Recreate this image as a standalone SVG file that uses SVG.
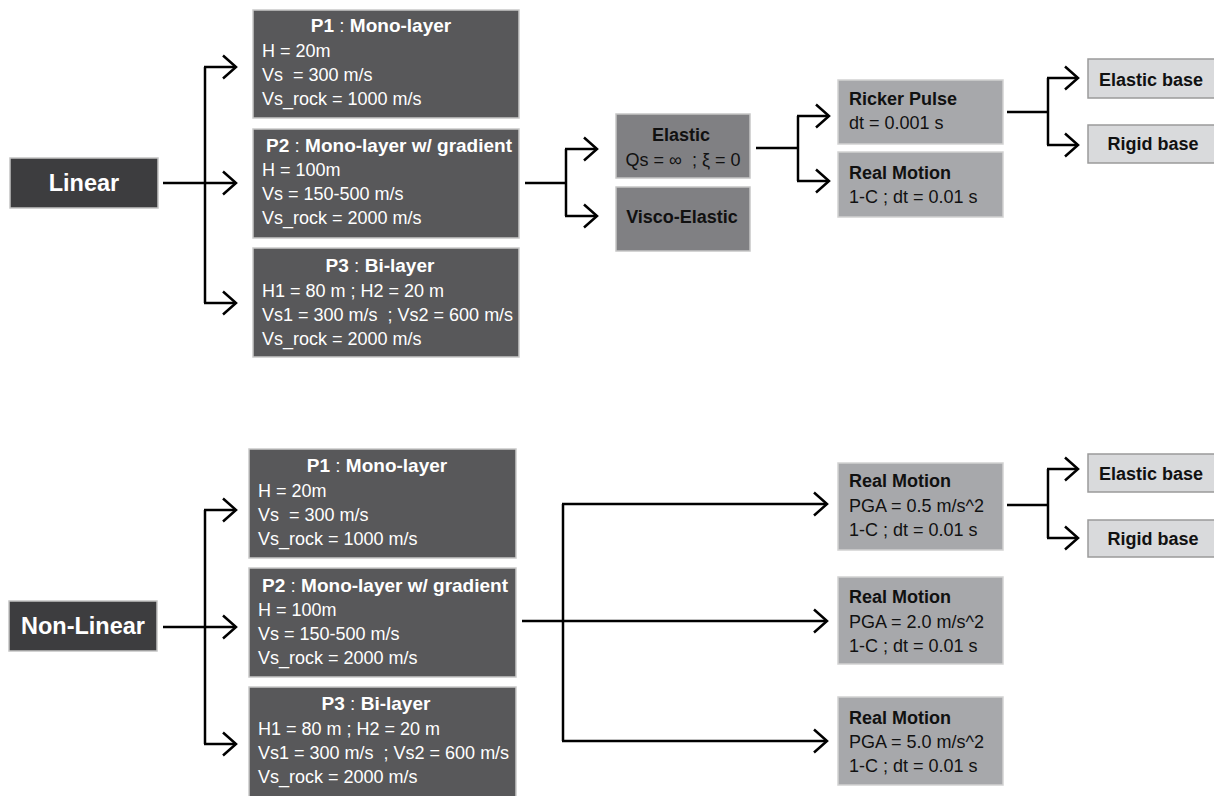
<svg xmlns="http://www.w3.org/2000/svg" width="1214" height="796" viewBox="0 0 1214 796">
<defs>
<style>
text{font-family:"Liberation Sans",Arial,sans-serif;}
.dk{fill:#3d3d3f;stroke:#c4c4c4;stroke-width:1.5;}
.pb{fill:#58585a;stroke:#c9c9c9;stroke-width:1.5;}
.md{fill:#808083;stroke:#c6c6c6;stroke-width:1.5;}
.lt{fill:#a7a8ab;stroke:#d2d2d2;stroke-width:1.5;}
.bs{fill:#d9dadc;stroke:#9a9a9a;stroke-width:1.5;}
.big{font-size:23.5px;font-weight:bold;fill:#fff;text-anchor:middle;}
.pt{font-size:19px;font-weight:bold;fill:#fff;}
.pl{font-size:18px;fill:#fff;}
.bt{font-size:18px;font-weight:bold;fill:#111;}
.bl{font-size:18px;fill:#111;}
.c{text-anchor:middle;}
.n{font-weight:normal;}
.ln{fill:none;stroke:#000;stroke-width:2.5;}
</style>
<marker id="ah" markerUnits="userSpaceOnUse" viewBox="-16 -14 18 28" refX="0" refY="0" markerWidth="18" markerHeight="28" orient="auto">
<path d="M-13,-11.5 L0,0 L-13,11.5" fill="none" stroke="#000" stroke-width="2.5"/>
</marker>
</defs>

<!-- Linear section -->
<g id="linear"><rect class="dk" x="10" y="158" width="148" height="50"/><text class="big" x="84" y="191">Linear</text></g>
<g id="lin-p1"><rect class="pb" x="253" y="10" width="266" height="108"/>
<text class="pt" x="381" y="32" text-anchor="middle" xml:space="preserve">P1<tspan class="n"> : </tspan>Mono-layer</text>
<text class="pl" x="262" y="57">H = 20m</text>
<text class="pl" x="262" y="81" xml:space="preserve">Vs  = 300 m/s</text>
<text class="pl" x="262" y="105">Vs_rock = 1000 m/s</text></g>
<g id="lin-p2"><rect class="pb" x="253" y="129" width="266" height="109"/>
<text class="pt" x="266" y="152" xml:space="preserve">P2<tspan class="n"> : </tspan>Mono-layer w/ gradient</text>
<text class="pl" x="262" y="176">H = 100m</text>
<text class="pl" x="262" y="200">Vs = 150-500 m/s</text>
<text class="pl" x="262" y="224">Vs_rock = 2000 m/s</text></g>
<g id="lin-p3"><rect class="pb" x="253" y="248" width="266" height="109"/>
<text class="pt" x="380" y="272" text-anchor="middle" xml:space="preserve">P3<tspan class="n"> : </tspan>Bi-layer</text>
<text class="pl" x="262" y="297">H1 = 80 m ; H2 = 20 m</text>
<text class="pl" x="262" y="321" xml:space="preserve">Vs1 = 300 m/s  ; Vs2 = 600 m/s</text>
<text class="pl" x="262" y="345">Vs_rock = 2000 m/s</text></g>
<g id="elastic"><rect class="md" x="616" y="114" width="134" height="64"/>
<text class="bt c" x="681" y="141">Elastic</text>
<text class="bl c" x="683" y="166" xml:space="preserve">Qs = ∞  ; ξ = 0</text></g>
<g id="visco"><rect class="md" x="616" y="187" width="134" height="64"/>
<text class="bt c" x="682" y="223">Visco-Elastic</text></g>
<g id="ricker"><rect class="lt" x="838" y="80" width="165" height="64"/>
<text class="bt" x="849" y="105">Ricker Pulse</text>
<text class="bl" x="849" y="129">dt = 0.001 s</text></g>
<g id="real-lin"><rect class="lt" x="838" y="152" width="165" height="65"/>
<text class="bt" x="849" y="179">Real Motion</text>
<text class="bl" x="849" y="203">1-C ; dt = 0.01 s</text></g>
<g id="elbase1"><rect class="bs" x="1088" y="59" width="130" height="39"/>
<text class="bt c" x="1151" y="86">Elastic base</text></g>
<g id="rgbase1"><rect class="bs" x="1088" y="125" width="130" height="38"/>
<text class="bt c" x="1153" y="150">Rigid base</text></g>

<!-- Non-Linear section -->
<g id="nonlinear"><rect class="dk" x="9" y="601" width="148" height="50"/><text class="big" x="83" y="634">Non-Linear</text></g>
<g id="nl-p1"><rect class="pb" x="249" y="449" width="267" height="109"/>
<text class="pt" x="377" y="472" text-anchor="middle" xml:space="preserve">P1<tspan class="n"> : </tspan>Mono-layer</text>
<text class="pl" x="258" y="497">H = 20m</text>
<text class="pl" x="258" y="521" xml:space="preserve">Vs  = 300 m/s</text>
<text class="pl" x="258" y="545">Vs_rock = 1000 m/s</text></g>
<g id="nl-p2"><rect class="pb" x="249" y="568" width="267" height="109"/>
<text class="pt" x="262" y="592" xml:space="preserve">P2<tspan class="n"> : </tspan>Mono-layer w/ gradient</text>
<text class="pl" x="258" y="616">H = 100m</text>
<text class="pl" x="258" y="640">Vs = 150-500 m/s</text>
<text class="pl" x="258" y="664">Vs_rock = 2000 m/s</text></g>
<g id="nl-p3"><rect class="pb" x="249" y="687" width="267" height="110"/>
<text class="pt" x="376" y="710" text-anchor="middle" xml:space="preserve">P3<tspan class="n"> : </tspan>Bi-layer</text>
<text class="pl" x="258" y="735">H1 = 80 m ; H2 = 20 m</text>
<text class="pl" x="258" y="759" xml:space="preserve">Vs1 = 300 m/s  ; Vs2 = 600 m/s</text>
<text class="pl" x="258" y="783">Vs_rock = 2000 m/s</text></g>
<g id="rm1"><rect class="lt" x="838" y="463" width="165" height="87"/>
<text class="bt" x="849" y="487">Real Motion</text>
<text class="bl" x="849" y="512">PGA = 0.5 m/s^2</text>
<text class="bl" x="849" y="536">1-C ; dt = 0.01 s</text></g>
<g id="rm2"><rect class="lt" x="838" y="577" width="165" height="87"/>
<text class="bt" x="849" y="603">Real Motion</text>
<text class="bl" x="849" y="628">PGA = 2.0 m/s^2</text>
<text class="bl" x="849" y="652">1-C ; dt = 0.01 s</text></g>
<g id="rm3"><rect class="lt" x="838" y="697" width="165" height="88"/>
<text class="bt" x="849" y="724">Real Motion</text>
<text class="bl" x="849" y="748">PGA = 5.0 m/s^2</text>
<text class="bl" x="849" y="772">1-C ; dt = 0.01 s</text></g>
<g id="elbase2"><rect class="bs" x="1088" y="454" width="130" height="38"/>
<text class="bt c" x="1151" y="480">Elastic base</text></g>
<g id="rgbase2"><rect class="bs" x="1088" y="520" width="130" height="37"/>
<text class="bt c" x="1153" y="545">Rigid base</text></g>

<g id="connectors">
<path class="ln" d="M163,183 H236" marker-end="url(#ah)"/>
<path class="ln" d="M205,67 V303"/>
<path class="ln" d="M204,67 H236" marker-end="url(#ah)"/>
<path class="ln" d="M204,303 H236" marker-end="url(#ah)"/>
<path class="ln" d="M525,183 H566"/>
<path class="ln" d="M566,149 V216"/>
<path class="ln" d="M565,149 H597" marker-end="url(#ah)"/>
<path class="ln" d="M565,216 H597" marker-end="url(#ah)"/>
<path class="ln" d="M756,148 H798"/>
<path class="ln" d="M798,116 V181"/>
<path class="ln" d="M797,116 H829" marker-end="url(#ah)"/>
<path class="ln" d="M797,181 H829" marker-end="url(#ah)"/>
<path class="ln" d="M1007,112 H1048"/>
<path class="ln" d="M1048,78 V145"/>
<path class="ln" d="M1047,78 H1078" marker-end="url(#ah)"/>
<path class="ln" d="M1047,145 H1078" marker-end="url(#ah)"/>
<path class="ln" d="M163,627 H236" marker-end="url(#ah)"/>
<path class="ln" d="M205,510 V744"/>
<path class="ln" d="M204,510 H236" marker-end="url(#ah)"/>
<path class="ln" d="M204,744 H236" marker-end="url(#ah)"/>
<path class="ln" d="M522,621 H827" marker-end="url(#ah)"/>
<path class="ln" d="M563,504 V741"/>
<path class="ln" d="M562,504 H827" marker-end="url(#ah)"/>
<path class="ln" d="M562,741 H827" marker-end="url(#ah)"/>
<path class="ln" d="M1007,505 H1048"/>
<path class="ln" d="M1048,469 V538"/>
<path class="ln" d="M1047,469 H1078" marker-end="url(#ah)"/>
<path class="ln" d="M1047,538 H1078" marker-end="url(#ah)"/>
</g>
</svg>
